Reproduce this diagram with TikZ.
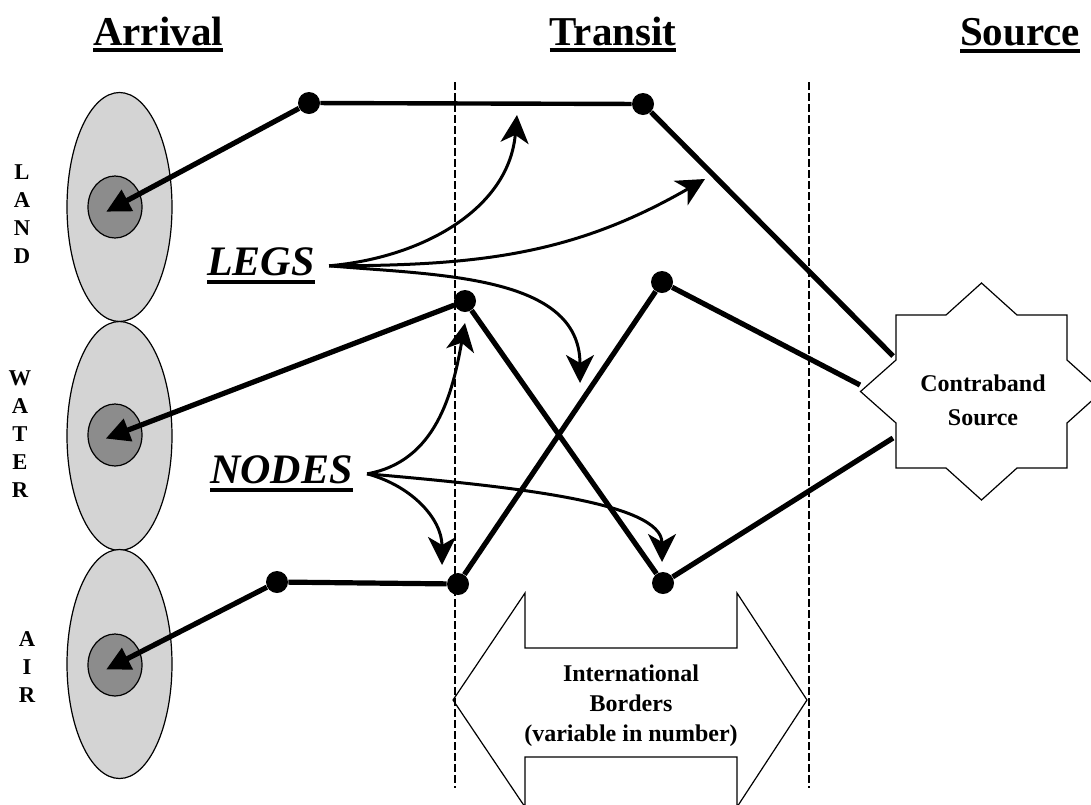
\documentclass[tikz,border=0pt]{standalone}
\usepackage{fontspec}
\setmainfont{Liberation Serif}
\usepackage{tikz}
\usetikzlibrary{positioning, arrows.meta, shapes.geometric}
\newcommand{\ulined}[2]{\vtop{\hbox{#1}\kern#2\hrule height 2pt}}

\tikzset{
    mode/.style={ellipse, draw, line width=0.6pt, fill=black!17, minimum width=52.5pt, minimum height=114.5pt, inner sep=0pt},
    port/.style={ellipse, draw, line width=0.6pt, fill=black!45, minimum width=27pt, minimum height=31pt, inner sep=0pt},
    stop/.style={circle, fill=black, inner sep=0pt, minimum size=11pt},
    leg/.style={line width=2.6pt},
    hop/.style={leg, -{Triangle[length=12pt,width=11.5pt]}, shorten >=-5pt},
    hint/.style={line width=1.5pt, -{Stealth[length=14pt,width=14pt,inset=4pt]}},
    border/.style={line width=0.7pt, dash pattern=on 4pt off 1.5pt},
    outline/.style={line width=0.6pt, line join=miter},
    heading/.style={anchor=base, inner sep=0pt, font=\fontsize{20.5}{24}\selectfont\bfseries},
    callout/.style={anchor=base, inner ysep=0pt, inner xsep=7pt, font=\fontsize{21}{24}\selectfont\bfseries\itshape},
    sidelabel/.style={align=center, inner sep=0pt, font=\fontsize{11.3}{14}\selectfont\bfseries},
    boxtext/.style={align=center, inner sep=0pt, font=\fontsize{12}{15}\selectfont\bfseries}
}

\begin{document}
\begin{tikzpicture}[x=0.5pt, y=0.5pt]
    \useasboundingbox (0,0) rectangle (1091,-804);

    % headings
    \node (arrival) at (158,-45)  [heading] {\ulined{Arrival}{1.5pt}};
    \node (transit) at (613,-45)  [heading] {\ulined{Transit}{1.5pt}};
    \node (source)  at (1020,-45) [heading] {\ulined{Source}{1.5pt}};

    % border lines
    \draw[border] (455,-82) -- (455,-788);
    \draw[border] (809,-82) -- (809,-788);

    % arrival modes
    \node (landzone)  at (119.5,-207) [mode] {};
    \node (waterzone) at (119.5,-436) [mode] {};
    \node (airzone)   at (119.5,-664) [mode] {};
    \node (landport)  at (115,-207) [port] {};
    \node (waterport) at (115,-435) [port] {};
    \node (airport)   at (115,-665) [port] {};
    \node (landlabel)  at (22,-214)  [sidelabel] {L\\A\\N\\D};
    \node (waterlabel) at (20,-434)  [sidelabel] {W\\A\\T\\E\\R};
    \node (airlabel)   at (27,-667)  [sidelabel] {A\\I\\R};

    % contraband source
    \draw[outline] (981.5,-283) -- (1017,-315) -- (1067,-315) -- (1067,-360) -- (1102,-391.5)
        -- (1067,-423) -- (1067,-468) -- (1017,-468) -- (981.5,-500) -- (946,-468) -- (896,-468)
        -- (896,-423) -- (860.5,-391.5) -- (896,-360) -- (896,-315) -- (946,-315) -- cycle;
    \node (contraband) at (983,-400) [boxtext, font=\fontsize{12}{17}\selectfont\bfseries] {Contraband\\Source};
    \coordinate (src-land)  at (893,-356);
    \coordinate (src-air)   at (860,-385);
    \coordinate (src-water) at (893,-438);

    % international borders
    \draw[outline] (453,-700) -- (525,-593) -- (525,-648) -- (737,-648) -- (737,-593) -- (807,-700)
        -- (737,-807) -- (737,-757) -- (525,-757) -- (525,-807) -- cycle;
    \node (borders) at (631,-706) [boxtext] {International\\Borders\\(variable in number)};

    % stops along the routes
    \node (land1)  at (309,-103) [stop] {};
    \node (land2)  at (643,-104) [stop] {};
    \node (water1) at (465,-301) [stop] {};
    \node (water2) at (663,-583) [stop] {};
    \node (air1)   at (277,-582) [stop] {};
    \node (air2)   at (458,-584) [stop] {};
    \node (air3)   at (662,-282) [stop] {};

    % routes
    \draw[leg] (src-land) -- (land2);
    \draw[leg, line width=2.2pt] (land2) -- (land1);
    \draw[hop] (land1) -- (landport.center);
    \draw[leg] (src-water) -- (water2);
    \draw[leg] (water2) -- (water1);
    \draw[hop] (water1) -- (waterport.center);
    \draw[leg] (src-air) -- (air3);
    \draw[leg] (air3) -- (air2);
    \draw[leg] (air2) -- (air1);
    \draw[hop] (air1) -- (airport.center);

    % callouts
    \node (legs)  at (261,-275)   [callout] {\ulined{LEGS}{2.5pt}};
    \node (nodes) at (281.5,-483) [callout] {\ulined{NODES}{2.5pt}};
    \coordinate (legs-tip1)  at (517,-115);
    \coordinate (legs-tip2)  at (705,-179);
    \coordinate (legs-tip3)  at (580,-383);
    \coordinate (nodes-tip1) at (465,-323);
    \coordinate (nodes-tip2) at (442,-565);
    \coordinate (nodes-tip3) at (662,-562);
    \draw[hint] (legs.east) to[out=5,in=-95] (legs-tip1);
    \draw[hint] (legs.east) to[out=0,in=210] (legs-tip2);
    \draw[hint] (legs.east) to[out=-5,in=90] (legs-tip3);
    \draw[hint] (nodes.east) to[out=10,in=-100] (nodes-tip1);
    \draw[hint] (nodes.east) to[out=-15,in=90] (nodes-tip2);
    \draw[hint] (nodes.east) to[out=-5,in=90,out looseness=1.2,in looseness=0.5] (nodes-tip3);
\end{tikzpicture}
\end{document}
